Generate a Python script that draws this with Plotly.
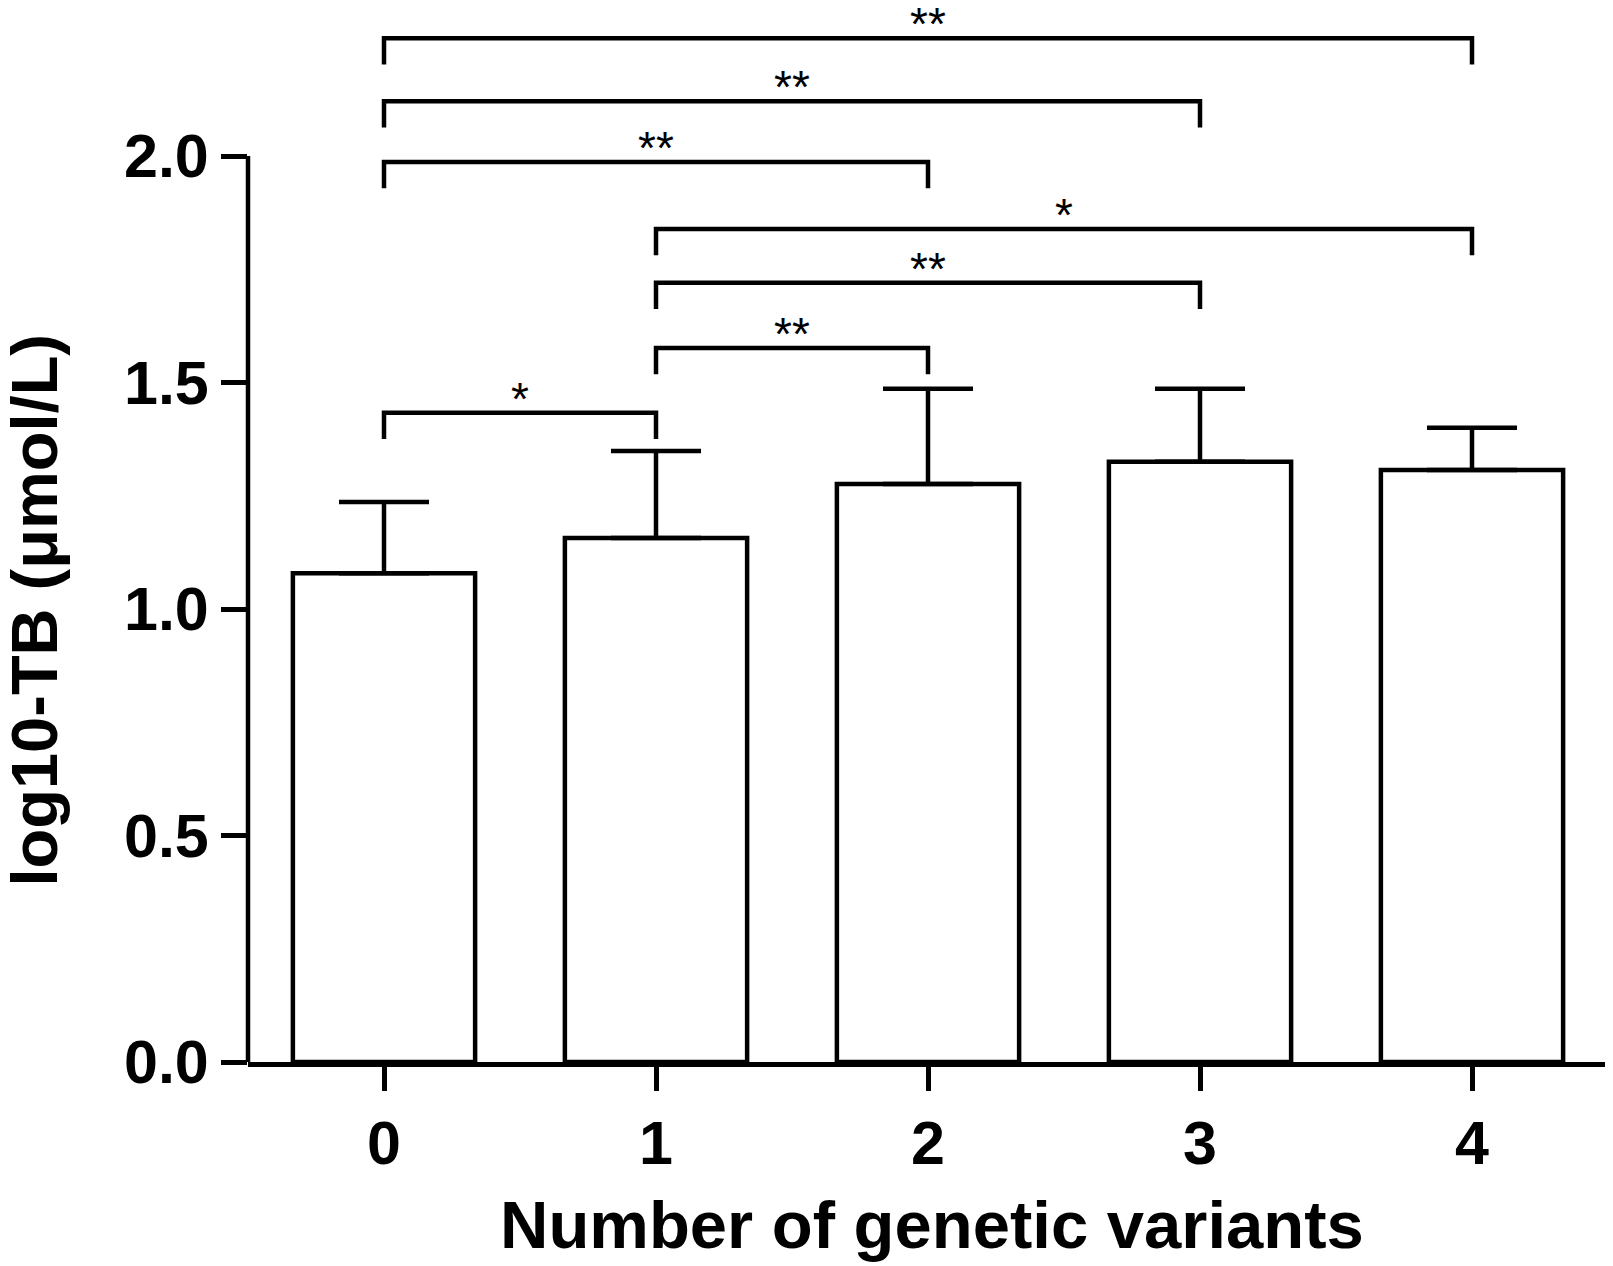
import plotly.graph_objects as go

# ---- data ----
categories = [0, 1, 2, 3, 4]
tick_labels = ["0", "1", "2", "3", "4"]
means = [1.079, 1.157, 1.276, 1.325, 1.307]
sd_upper = [0.157, 0.192, 0.210, 0.161, 0.093]

# significance brackets
bracket_left = [0, 1, 1, 1, 0, 0, 0]
bracket_right = [1, 2, 3, 4, 2, 3, 4]
bracket_y = [1.433, 1.576, 1.720, 1.839, 1.987, 2.121, 2.260]
bracket_labels = ["*", "**", "**", "*", "**", "**", "**"]
bracket_drop = 0.058

y_ticks = [0.0, 0.5, 1.0, 1.5, 2.0]
y_tick_text = ["0.0", "0.5", "1.0", "1.5", "2.0"]

FONT = "Liberation Sans, Arial, Helvetica, sans-serif"

fig = go.Figure()

fig.add_trace(go.Bar(
    x=categories, y=means, width=0.67,
    marker=dict(color="white", line=dict(color="black", width=4.5)),
    error_y=dict(type="data", symmetric=False, array=sd_upper,
                 arrayminus=[0] * len(sd_upper),
                 color="black", thickness=4.5, width=45),
    showlegend=False,
))

for a, b, h, lab in zip(bracket_left, bracket_right, bracket_y, bracket_labels):
    fig.add_trace(go.Scatter(
        x=[a, a, b, b], y=[h - bracket_drop, h, h, h - bracket_drop],
        mode="lines", line=dict(color="black", width=4.5),
        showlegend=False, hoverinfo="skip", cliponaxis=False,
    ))
    fig.add_annotation(
        x=(a + b) / 2, y=h, xref="x", yref="y", text=lab, showarrow=False,
        yanchor="middle", xanchor="center", yshift=14, borderpad=0,
        font=dict(family=FONT, size=46, color="black"),
    )

# y axis line only from 0 to 2.0
fig.add_shape(type="line", xref="paper", yref="y", x0=0, x1=0,
              y0=0, y1=2.0, line=dict(color="black", width=4.5))

fig.add_annotation(
    text="log10-TB (μmol/L)", xref="paper", yref="paper",
    x=-0.157, y=0.4288, textangle=-90, showarrow=False, borderpad=0,
    xanchor="center", yanchor="middle",
    font=dict(family=FONT, size=65, color="black", weight="bold"),
)
fig.add_annotation(
    text="Number of genetic variants", xref="paper", yref="paper",
    x=0.503, y=-0.1546, showarrow=False,
    xanchor="center", yanchor="middle",
    font=dict(family=FONT, size=67, color="black", weight="bold"),
)

fig.update_layout(
    width=1605, height=1258,
    margin=dict(l=240, r=5, t=0, b=204, pad=0),
    plot_bgcolor="white", paper_bgcolor="white",
    font=dict(family=FONT, color="black"),
)
fig.update_xaxes(
    range=[-0.5, 4.5], tickvals=categories, ticktext=tick_labels,
    showline=True, linecolor="black", linewidth=4.5,
    ticks="outside", ticklen=24, tickwidth=4.5, tickcolor="black",
    tickfont=dict(family=FONT, size=61, color="black", weight="bold"),
    showgrid=False, zeroline=False,
)
fig.update_yaxes(
    range=[0, 2.3267], tickvals=y_ticks, ticktext=y_tick_text,
    showline=False,
    ticks="outside", ticklen=26, tickwidth=4.5, tickcolor="black",
    tickfont=dict(family=FONT, size=61, color="black", weight="bold"),
    showgrid=False, zeroline=False,
)

fig.write_html("out.html")
